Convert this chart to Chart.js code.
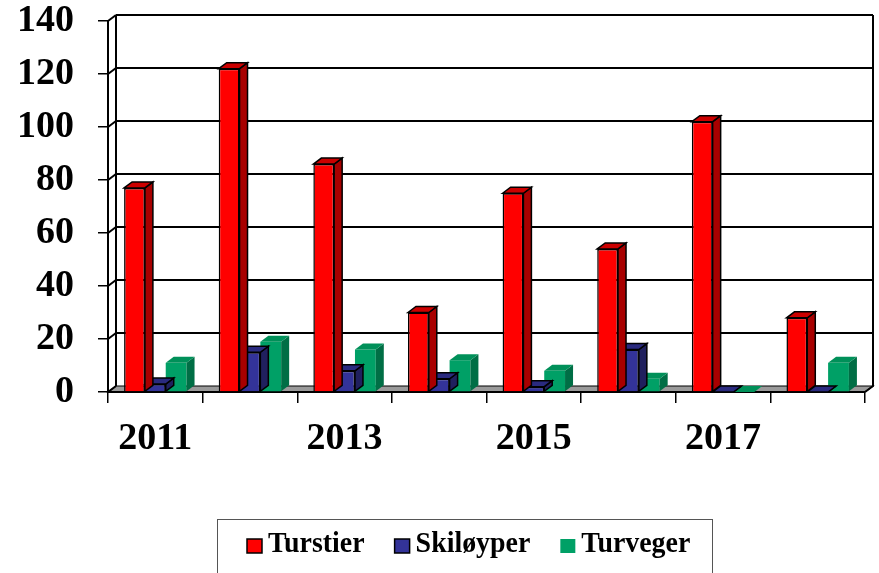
<!DOCTYPE html>
<html><head><meta charset="utf-8">
<script src="https://cdn.jsdelivr.net/npm/chart.js@4.4.1/dist/chart.umd.min.js"></script>
<style>html,body{margin:0;padding:0;background:#fff;overflow:hidden}#wrap{width:879px;height:573px;position:relative}</style>
</head><body><div id="wrap"><canvas id="c" width="879" height="573"></canvas></div>
<script>
// ---- data ----
const categories = ['2011','2012','2013','2014','2015','2016','2017','2018'];
const turstier  = [77, 122, 86, 30, 75, 54, 102, 28];
const skiloyper = [3, 15, 8, 5, 2, 16, 0, 0];
const turveger  = [11, 19, 16, 12, 8, 5, 0, 11];
const seriesNames = ['Turstier', 'Skiløyper', 'Turveger'];
const yTicks = [0, 20, 40, 60, 80, 100, 120, 140];

// ---- style ----
const DX = 8, DY = -6;
const SERIF = '"Liberation Serif","Times New Roman",serif';
const styles = [
  {front:'#FF0000', top:'#CC0000', side:'#A80000', border:'#000000', bw:1.5},
  {front:'#333399', top:'#2A2A7F', side:'#20205E', border:'#000000', bw:1.5},
  {front:'#00A066', top:'#009059', side:'#006E45', border:null, bw:0}
];

const box3d = {
  id: 'box3d',
  beforeDraw(chart) {
    const ctx = chart.ctx, y = chart.scales.y, a = chart.chartArea;
    const L = a.left, R = a.right, y0 = y.getPixelForValue(0), yT = y.getPixelForValue(yTicks[yTicks.length-1]);
    ctx.save();
    // floor
    ctx.beginPath();
    ctx.moveTo(L, y0); ctx.lineTo(R, y0); ctx.lineTo(R+DX, y0+DY); ctx.lineTo(L+DX, y0+DY); ctx.closePath();
    ctx.fillStyle = '#9a9a9a'; ctx.fill();
    ctx.strokeStyle = '#000'; ctx.lineWidth = 1.2; ctx.stroke();
    // back wall grid lines
    ctx.lineWidth = 2; ctx.strokeStyle = '#000';
    yTicks.forEach(v => {
      const py = y.getPixelForValue(v);
      if (v > 0) {
        ctx.beginPath(); ctx.moveTo(L+DX, py+DY); ctx.lineTo(R+DX, py+DY); ctx.stroke();
      }
      ctx.beginPath(); ctx.moveTo(L, py); ctx.lineTo(L+DX, py+DY); ctx.stroke();
    });
    // back verticals
    ctx.beginPath(); ctx.moveTo(L+DX, yT+DY); ctx.lineTo(L+DX, y0+DY); ctx.stroke();
    ctx.beginPath(); ctx.moveTo(R+DX, yT+DY); ctx.lineTo(R+DX, y0+DY); ctx.lineTo(R, y0); ctx.stroke();
    ctx.restore();
  },
  afterDatasetDraw(chart, args) {
    const st = styles[args.index];
    const ctx = chart.ctx;
    ctx.save();
    args.meta.data.forEach(el => {
      const p = el.getProps(['x','y','base','width'], true);
      const l = p.x - p.width/2, r = p.x + p.width/2;
      const t = Math.min(p.y, p.base), b = Math.max(p.y, p.base);
      // side
      ctx.beginPath();
      ctx.moveTo(r, t); ctx.lineTo(r+DX, t+DY); ctx.lineTo(r+DX, b+DY); ctx.lineTo(r, b); ctx.closePath();
      ctx.fillStyle = st.side; ctx.fill();
      if (st.border) { ctx.strokeStyle = st.border; ctx.lineWidth = st.bw; ctx.stroke(); }
      // top
      ctx.beginPath();
      ctx.moveTo(l, t); ctx.lineTo(l+DX, t+DY); ctx.lineTo(r+DX, t+DY); ctx.lineTo(r, t); ctx.closePath();
      ctx.fillStyle = st.top; ctx.fill();
      if (st.border) { ctx.strokeStyle = st.border; ctx.lineWidth = st.bw; ctx.stroke(); }
    });
    ctx.restore();
  },
  afterDraw(chart) {
    const ctx = chart.ctx;
    ctx.save();
    // legend box
    ctx.strokeStyle = '#555'; ctx.lineWidth = 1;
    ctx.strokeRect(217.5, 519.5, 495, 80);
    ctx.font = 'bold 30px ' + SERIF;
    ctx.textBaseline = 'alphabetic';
    const SX = 0.93;
    let x = 247;
    chart.data.datasets.forEach((ds, i) => {
      const st = styles[i];
      ctx.fillStyle = st.front;
      ctx.fillRect(x, 539, 15, 14);
      if (st.border) { ctx.strokeStyle = '#000'; ctx.lineWidth = 1.5; ctx.strokeRect(x, 539, 15, 14); }
      ctx.fillStyle = '#000';
      ctx.save();
      ctx.translate(x + 21, 552);
      ctx.scale(SX, 1);
      ctx.fillText(ds.label, 0, 0);
      ctx.restore();
      x += 21 + ctx.measureText(ds.label).width * SX + 30;
    });
    ctx.restore();
  }
};

new Chart(document.getElementById('c'), {
  type: 'bar',
  data: {
    labels: categories,
    datasets: [
      {label: seriesNames[0], data: turstier,  backgroundColor: styles[0].front, borderColor: '#000', borderWidth: 1.5},
      {label: seriesNames[1], data: skiloyper, backgroundColor: styles[1].front, borderColor: '#000', borderWidth: 1.5},
      {label: seriesNames[2], data: turveger,  backgroundColor: styles[2].front, borderWidth: 0}
    ]
  },
  options: {
    responsive: false,
    animation: false,
    layout: {padding: {top: 21, right: 14, left: 0, bottom: 0}},
    datasets: {bar: {categoryPercentage: 0.66, barPercentage: 1}},
    plugins: {legend: {display: false}, tooltip: {enabled: false}},
    scales: {
      x: {
        grid: {display: true, drawOnChartArea: false, drawTicks: true, tickLength: 11, color: '#000', lineWidth: 1.5, offset: true},
        border: {display: true, color: '#000', width: 2},
        ticks: {font: {family: SERIF, size: 38, weight: 'bold'}, color: '#000', padding: 13, maxRotation: 0, autoSkip: false,
                callback: (v, i) => (i % 2 === 0 ? categories[i] : '')},
        afterFit: s => { s.height = 181; s.paddingLeft = 0; s.paddingRight = 0; }
      },
      y: {
        min: 0, max: 140,
        afterBuildTicks: s => { s.ticks = yTicks.map(v => ({value: v})); },
        grid: {display: true, drawOnChartArea: false, drawTicks: true, tickLength: 10, color: '#000', lineWidth: 1.5},
        border: {display: true, color: '#000', width: 2},
        ticks: {font: {family: SERIF, size: 38, weight: 'bold', lineHeight: 1}, color: '#000', padding: 24},
        afterFit: s => { s.width = 108; s.paddingTop = 0; s.paddingBottom = 0; }
      }
    }
  },
  plugins: [box3d]
});
</script>
</body></html>
